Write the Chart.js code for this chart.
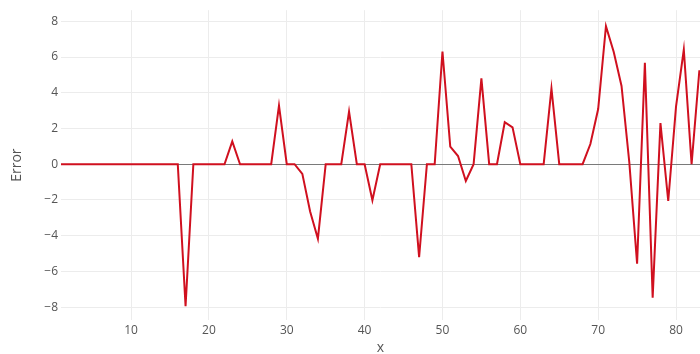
<!DOCTYPE html>
<html lang="en">
<head>
  <meta charset="UTF-8" />
  <title>Error</title>
  <style>
    html, body { margin: 0; padding: 0; background: #fff; }
    #wrap { width: 700px; height: 354px; }
  </style>
  <script src="https://cdn.jsdelivr.net/npm/chart.js"></script>
</head>
<body>
  <div id="wrap"><canvas id="errChart" width="700" height="354"></canvas></div>
  <script>
    const xs = [
      1, 2, 3, 4, 5, 6, 7, 8, 9, 10, 11, 12, 13, 14, 15, 16, 17, 18, 19, 20,
      21, 22, 23, 24, 25, 26, 27, 28, 29, 30, 31, 32, 33, 34, 35, 36, 37, 38, 39, 40,
      41, 42, 43, 44, 45, 46, 47, 48, 49, 50, 51, 52, 53, 54, 55, 56, 57, 58, 59, 60,
      61, 62, 63, 64, 65, 66, 67, 68, 69, 70, 71, 72, 73, 74, 75, 76, 77, 78, 79, 80,
      81, 82, 83
    ];
    const errors = [
      0, 0, 0, 0, 0, 0, 0, 0, 0, 0, 0, 0, 0, 0, 0, 0, -7.95, 0, 0, 0,
      0, 0, 1.28, 0, 0, 0, 0, 0, 3.28, 0, 0, -0.54, -2.65, -4.17, 0, 0, 0, 2.94, 0, 0,
      -2.02, 0, 0, 0, 0, 0, -5.2, 0, 0, 6.31, 0.98, 0.46, -0.94, 0, 4.8, 0, 0, 2.35, 2.06, 0,
      0, 0, 0, 4.24, 0, 0, 0, 0, 1.13, 3.09, 7.72, 6.28, 4.38, 0.1, -5.57, 5.68, -7.47, 2.3, -2.06, 3.22,
      6.41, 0, 5.26
    ];
    const xTicks = [10, 20, 30, 40, 50, 60, 70, 80];
    const yTicks = [-8, -6, -4, -2, 0, 2, 4, 6, 8];

    const tickFont = { family: "'Open Sans', sans-serif", size: 12 };
    const titleFont = { family: "'Open Sans', sans-serif", size: 14 };
    const fmt = v => (v < 0 ? '\u2212' + Math.abs(v) : String(v));

    new Chart(document.getElementById('errChart').getContext('2d'), {
      type: 'line',
      data: {
        datasets: [{
          label: 'Error',
          data: xs.map((x, i) => ({ x: x, y: errors[i] })),
          borderColor: '#d0101f',
          borderWidth: 2,
          pointRadius: 0,
          tension: 0,
          fill: false
        }]
      },
      options: {
        responsive: false,
        animation: false,
        layout: { padding: { top: 8, right: 0, left: 0, bottom: 0 } },
        plugins: { legend: { display: false }, tooltip: { enabled: false } },
        scales: {
          x: {
            type: 'linear',
            min: 1,
            max: 83.08,
            afterBuildTicks: s => { s.ticks = xTicks.map(v => ({ value: v })); },
            afterFit: s => { s.height = 34; },
            border: { display: false },
            grid: { color: '#ececec', drawTicks: false },
            ticks: { color: '#555', font: tickFont, padding: 3, maxRotation: 0 },
            title: { display: true, text: 'x', color: '#555', font: { family: "'Open Sans', sans-serif", size: 14, lineHeight: 0.8 }, padding: 0 }
          },
          y: {
            min: -8.72,
            max: 8.62,
            afterBuildTicks: s => { s.ticks = yTicks.map(v => ({ value: v })); },
            afterFit: s => { s.width = 61; },
            border: { display: false },
            grid: {
              drawTicks: false,
              color: c => (c.tick && c.tick.value === 0 ? '#7a7a7a' : '#ececec')
            },
            ticks: { color: '#555', font: tickFont, padding: 3, callback: v => fmt(v) },
            title: { display: true, text: 'Error', color: '#555', font: titleFont, padding: { top: 8.6, bottom: 0 } }
          }
        }
      }
    });
  </script>
</body>
</html>
